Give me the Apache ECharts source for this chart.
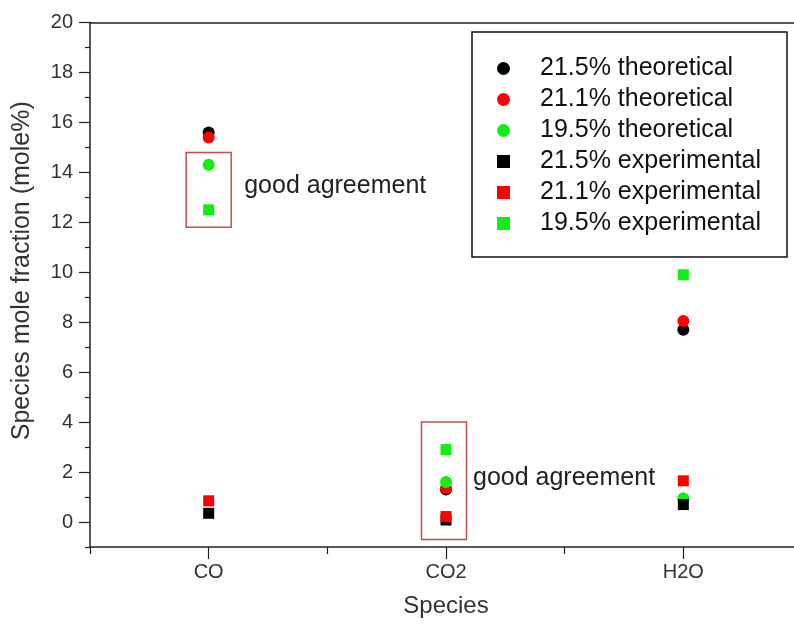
<!DOCTYPE html>
<html><head><meta charset="utf-8">
<script src="https://cdn.jsdelivr.net/npm/echarts@6/dist/echarts.min.js"></script>
<style>html,body{margin:0;padding:0;background:#fff}#c{width:794px;height:624px}</style>
</head><body><div id="c"></div>
<script>
// ---- data ----
const categories = ['CO', 'CO2', 'H2O'];
const theo215 = [15.6, 1.3, 7.7];
const theo211 = [15.4, 1.35, 8.05];
const theo195 = [14.3, 1.6, 0.95];
const exp215 = [0.35, 0.08, 0.7];
const exp211 = [0.85, 0.22, 1.65];
const exp195 = [12.5, 2.9, 9.9];
const seriesNames = ['21.5% theoretical', '21.1% theoretical', '19.5% theoretical',
                     '21.5% experimental', '21.1% experimental', '19.5% experimental'];
const yMajorTicks = [0, 2, 4, 6, 8, 10, 12, 14, 16, 18, 20];
const yMinorTicks = [-1, 1, 3, 5, 7, 9, 11, 13, 15, 17, 19];
// annotation boxes (data units)
const boxCats = ['CO', 'CO2'];
const boxLow = [11.8, -0.7];
const boxHigh = [14.8, 4.0];
const noteText = 'good agreement';
const noteY = [13.45, 1.75];

const FONT = "'Liberation Sans', Arial, sans-serif";
const AX = '#222';
const chart = echarts.init(document.getElementById('c'), null, {renderer: 'canvas'});

const allValues = [theo215, theo211, theo195, exp215, exp211, exp195];
const colors = ['#000000', '#ff0000', '#11ee11', '#000000', '#ff0000', '#11ee11'];
const series = allValues.map((vals, i) => ({
  name: seriesNames[i],
  type: 'scatter',
  symbol: i < 3 ? 'circle' : 'rect',
  symbolSize: i < 3 ? 12 : 11,
  itemStyle: {color: colors[i], opacity: 1},
  emphasis: {disabled: true},
  data: vals.map((v, k) => [categories[k], v]),
  z: 3
}));

chart.setOption({
  animation: false,
  backgroundColor: '#fff',
  textStyle: {fontFamily: FONT},
  grid: {left: 90, width: 712, top: 22.5, bottom: 77, containLabel: false, outerBoundsMode: 'none'},
  xAxis: [
    {
      type: 'category', data: categories, position: 'bottom', boundaryGap: true,
      axisLine: {show: true, onZero: false, lineStyle: {color: AX, width: 1.5}},
      axisTick: {show: true, alignWithLabel: true, length: 12, lineStyle: {color: AX, width: 1.2}},
      axisLabel: {fontSize: 20, margin: 15, color: '#333', fontFamily: FONT},
      splitLine: {show: false},
      name: 'Species', nameLocation: 'middle', nameGap: 47,
      nameTextStyle: {fontSize: 24, color: '#333', fontFamily: FONT}
    },
    {
      type: 'category', data: categories, position: 'bottom', boundaryGap: true,
      axisLine: {show: false, onZero: false},
      axisTick: {show: true, alignWithLabel: false, length: 7, lineStyle: {color: AX, width: 1.2}},
      axisLabel: {show: false}, splitLine: {show: false}
    },
    {
      type: 'category', data: categories, position: 'top', boundaryGap: true,
      axisLine: {show: true, onZero: false, lineStyle: {color: AX, width: 1.5}},
      axisTick: {show: false}, axisLabel: {show: false}, splitLine: {show: false}
    }
  ],
  yAxis: [
    {
      type: 'value', min: -1, max: 20, position: 'left',
      axisLine: {show: true, onZero: false, lineStyle: {color: AX, width: 1.5}},
      axisTick: {show: true, length: 11, customValues: yMajorTicks, lineStyle: {color: AX, width: 1.2}},
      axisLabel: {fontSize: 20, margin: 17, color: '#333', fontFamily: FONT, customValues: yMajorTicks},
      splitLine: {show: false},
      name: 'Species mole fraction (mole%)', nameLocation: 'middle', nameGap: 55,
      nameTextStyle: {fontSize: 25, color: '#333', fontFamily: FONT, padding: [0, 0, 0, 28]}
    },
    {
      type: 'value', min: -1, max: 20, position: 'left',
      axisLine: {show: false, onZero: false},
      axisTick: {show: true, length: 5, customValues: yMinorTicks, lineStyle: {color: AX, width: 1.2}},
      axisLabel: {show: false}, splitLine: {show: false}
    }
  ],
  legend: {
    orient: 'vertical', left: 497, top: 56, padding: 0,
    itemWidth: 13, itemHeight: 13, itemGap: 6,
    selectedMode: false,
    data: seriesNames,
    textStyle: {fontSize: 25, lineHeight: 24, color: '#111', fontFamily: FONT, padding: [0, 0, 0, 25]}
  },
  series: series
});

// annotations computed through the chart's own scales
const graphics = [{
  type: 'rect', shape: {x: 472, y: 32, width: 315, height: 225},
  style: {fill: 'none', stroke: '#111', lineWidth: 1.5}, z: 10
}];
const noteDx = [35.5, 27];
boxCats.forEach((cat, i) => {
  const pTop = chart.convertToPixel({seriesIndex: 0}, [cat, boxHigh[i]]);
  const pBot = chart.convertToPixel({seriesIndex: 0}, [cat, boxLow[i]]);
  const halfW = 22.5;
  graphics.push({
    type: 'rect',
    shape: {x: pTop[0] - halfW - (i === 1 ? 2 : 0), y: pTop[1], width: 2 * halfW, height: pBot[1] - pTop[1]},
    style: {fill: 'none', stroke: '#c0504d', lineWidth: 1.5}, z: 10
  });
  const pn = chart.convertToPixel({seriesIndex: 0}, [cat, noteY[i]]);
  graphics.push({
    type: 'text', x: pn[0] + noteDx[i], y: pn[1],
    style: {text: noteText, fontSize: 25, fontFamily: FONT, fill: '#222', verticalAlign: 'middle', align: 'left'},
    z: 10
  });
});
chart.setOption({graphic: graphics});
</script>
</body></html>
